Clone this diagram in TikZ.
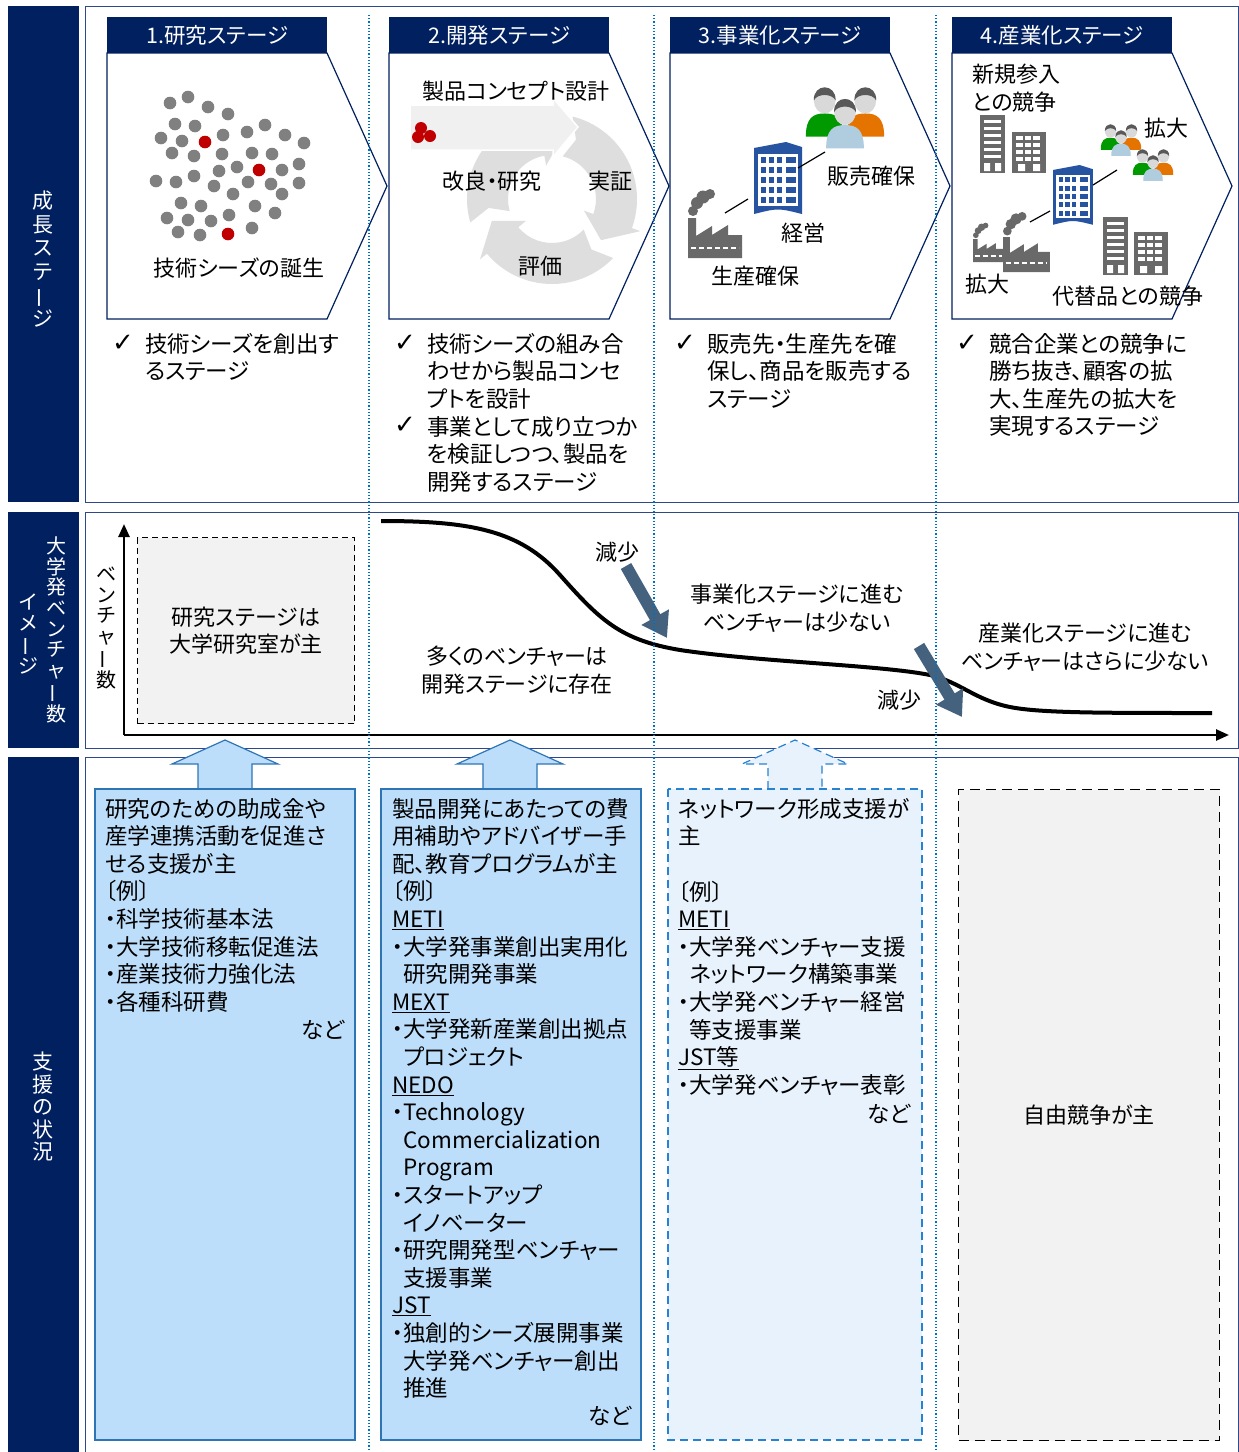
\documentclass[tikz,border=0pt]{standalone}
\usepackage{fontspec}
\setmainfont[RawFeature={+palt}]{Noto Sans CJK JP}
\newfontfamily\tatefont{Noto Sans CJK JP}
\newfontfamily\checkfont{DejaVu Sans}
\usetikzlibrary{arrows.meta,calc}

\definecolor{navy}{RGB}{0,32,96}
\definecolor{panelline}{RGB}{47,72,140}
\definecolor{sepblue}{RGB}{0,112,192}
\definecolor{supfill}{RGB}{189,222,250}
\definecolor{supline}{RGB}{46,117,182}
\definecolor{netfill}{RGB}{232,242,252}
\definecolor{netline}{RGB}{40,130,210}
\definecolor{freefill}{RGB}{242,242,242}
\definecolor{slate}{RGB}{68,98,126}
\definecolor{seedgray}{RGB}{128,128,128}
\definecolor{seedred}{RGB}{192,0,0}
\definecolor{ringgray}{RGB}{222,222,222}
\definecolor{bldblue}{RGB}{38,84,160}
\definecolor{icongray}{RGB}{105,105,105}
\definecolor{frontblue}{RGB}{175,205,222}

% long vowel mark for vertical lines
\newcommand\tbar{\rotatebox[origin=c]{90}{ー}}

\tikzset{
  stagehead/.style={fill=navy,text=white,minimum width=220,minimum height=36,inner sep=0pt,
    font=\fontsize{21.5}{24}\selectfont},
  chevron/.style={draw=navy,line width=1.2pt,fill=white},
  panel/.style={draw=panelline,line width=1pt},
  sep/.style={draw=sepblue,dotted,line width=1.2pt},
  tate/.style={text=white,align=center,inner sep=0pt},
  txt/.style={font=\fontsize{22.5}{27.6}\selectfont,align=left,inner sep=0pt,anchor=north west},
  lbl/.style={font=\fontsize{22}{27.6}\selectfont,align=center,inner sep=0pt},
  chk/.style={font=\checkfont\fontsize{26}{28}\selectfont,inner sep=0pt},
  support/.style={fill=supfill,draw=supline,line width=1.2pt},
  network/.style={fill=netfill,draw=netline,line width=1.2pt,dash pattern=on 8pt off 5pt},
  drop/.style={draw=slate,line width=12pt,-{Triangle[width=30pt,length=24pt]}},
  axis/.style={line width=2.5pt,-{Triangle[width=11pt,length=13pt]}},
  link/.style={line width=1.2pt},
}

% person: head centre, body colour, scale
\newcommand\person[4]{%
  \begin{scope}[shift={(#1,#2)},scale=#4]
    \fill[#3] (-13,25) .. controls (-13,12) and (-8,9) .. (0,9)
      .. controls (8,9) and (13,12) .. (13,25) -- cycle;
    \fill[gray!30] (0,0) ellipse (7.5 and 9);
    \fill[gray!70!black] (-7.5,0) .. controls (-8,-12) and (8,-12) .. (7.5,0)
      .. controls (5,-5) and (-5,-5) .. cycle;
  \end{scope}}
% three people, front head centre
\newcommand\crowd[3]{%
  \person{#1-14*#3}{#2-8*#3}{green!60!black}{#3}
  \person{#1+14*#3}{#2-8*#3}{orange!90!black}{#3}
  \person{#1}{#2}{frontblue}{#3}}
% office block: top left, scale
\newcommand\office[3]{%
  \begin{scope}[shift={(#1,#2)},scale=#3]
    \fill[bldblue] (0,6) -- (32,0) -- (48,5) -- (48,72) .. controls (24,66) .. (0,72) -- cycle;
    \fill[white] (4,12) rectangle (44,64);
    \foreach \r in {0,...,4}{
      \foreach \c in {0,1,2}
        \fill[bldblue] ({7+\c*8},{15+\r*10}) rectangle ++(5,6);
      \fill[bldblue] (32,{15+\r*10}) rectangle ++(10,6);
    }
  \end{scope}}
% factory: bottom left, scale
\newcommand\factory[3]{%
  \begin{scope}[shift={(#1,#2)},scale=#3]
    \fill[icongray] (0,0) -- (0,-40) -- (8,-40) -- (8,-22) -- (24,-32) -- (24,-23)
      -- (40,-33) -- (40,-23) -- (54,-23) -- (54,0) -- cycle;
    \draw[white,line width=2pt,dash pattern=on 5pt off 3pt] (3,-10) -- (51,-10);
    \fill[icongray] (5,-47) circle (5) (9,-55) circle (6) (15,-61) circle (6.5) (22,-64) circle (5);
  \end{scope}}
% grey towers: x, y, w, h
\newcommand\towertall[4]{%
  \fill[icongray] (#1,#2) rectangle ++(#3,#4);
  \foreach \k in {0,...,5}
    \fill[white] ({#1+4},{#2+5+\k*7}) rectangle ++({#3-8},3);
  \fill[white] ({#1+4},{#2+#4-10}) rectangle ++(6,8) ({#1+#3-10},{#2+#4-10}) rectangle ++(6,8);}
\newcommand\towergrid[4]{%
  \fill[icongray] (#1,#2) rectangle ++(#3,#4);
  \foreach \r in {0,...,3}
    \foreach \c in {0,1,2}
      \fill[white] ({#1+4+\c*(#3-8)/3},{#2+4+\r*7}) rectangle ++({(#3-8)/3-2},4);
  \fill[white] ({#1+6},{#2+#4-9}) rectangle ++(7,7) ({#1+#3-13},{#2+#4-9}) rectangle ++(7,7);}
% ring segment with head, clockwise
\newcommand\cyclearrow[2]{%
  \fill[ringgray] ($(ring)+(#1:85)$) arc[start angle=#1,end angle=#2,radius=85]
    -- ($(ring)+(#2:94)$) -- ($(ring)+(#2+20:64)$) -- ($(ring)+(#2:34)$)
    -- ($(ring)+(#2:44)$) arc[start angle=#2,end angle=#1,radius=44]
    -- ($(ring)+(#1+8:64)$) -- cycle;}
% block arrow above a support box
\newcommand\liftarrow[2]{%
  \draw[#2] (#1-27,789) -- (#1-27,764) -- (#1-53,764) -- (#1,740) -- (#1+53,764)
    -- (#1+27,764) -- (#1+27,789);}

\begin{document}
\begin{tikzpicture}[x=1pt,y=-1pt]
\useasboundingbox[fill=white] (0,0) rectangle (1239,1452);

% row titles
\fill[navy] (8,6) rectangle (79,502);
\fill[navy] (8,512) rectangle (79,748);
\fill[navy] (8,757) rectangle (79,1452);
\node[tate,font=\tatefont\fontsize{21}{23.6}\selectfont] (rowstage) at (43,259) {成\\長\\ス\\テ\\\tbar\\ジ};
\node[tate,font=\tatefont\fontsize{20}{20.6}\selectfont] (rowcount) at (56,630) {大\\学\\発\\ベ\\ン\\チ\\ャ\\\tbar\\数};
\node[tate,font=\tatefont\fontsize{20}{20.6}\selectfont] (rowimage) at (29,634) {イ\\メ\\\tbar\\ジ};
\node[tate,font=\tatefont\fontsize{21}{22.5}\selectfont] (rowsupport) at (43,1107) {支\\援\\の\\状\\況};

% panels
\draw[panel] (85,6) rectangle (1238,502);
\draw[panel] (85,512) rectangle (1238,748);
\draw[panel] (85,757) rectangle (1238,1460);

% stage chevrons
\foreach \x/\n/\t in {107/1/研究ステージ,389/2/開発ステージ,670/3/事業化ステージ,952/4/産業化ステージ}{
  \draw[chevron] (\x,53) -- (\x+220,53) -- (\x+280,186) -- (\x+220,319) -- (\x,319) -- cycle;
  \node[stagehead,anchor=north west] (head\n) at (\x,17) {\n.\t};
}

% 1: seeds
\foreach \p in {(170,103),(188,97),(208,107),(228,114),(175,124),(195,126),(161,138),(182,141),
  (223,135),(247,132),(265,125),(285,135),(304,143),(172,153),(194,156),(222,154),(252,153),
  (272,154),(299,164),(237,167),(219,171),(194,176),(156,181),(176,182),(214,186),(248,182),
  (271,184),(282,170),(299,183),(282,194),(233,194),(181,203),(201,206),(255,206),(275,213),
  (167,218),(188,220),(211,221),(229,215),(178,232),(200,235),(252,228)}
  \fill[seedgray] \p circle (6.3);
\foreach \p in {(205,142),(259,170),(228,234)}
  \fill[seedred] \p circle (6.3);
\node[lbl] (seedlbl) at (239,268) {技術シーズの誕生};

% 2: development cycle
\coordinate (ring) at (552,199);
\cyclearrow{164}{260}
\cyclearrow{-76}{20}
\cyclearrow{44}{140}
\fill[gray!12,draw=white,line width=1.5pt] (410,105) -- (553,105) -- (553,98) -- (578,127)
  -- (553,157) -- (553,150) -- (410,150) -- cycle;
\foreach \p in {(421,128),(418,137),(430,136)}
  \fill[seedred] \p circle (6);
\node[lbl] (conceptlbl) at (516,91) {製品コンセプト設計};
\node[lbl] (improvelbl) at (492,181) {改良・研究};
\node[lbl] (provelbl) at (610,181) {実証};
\node[lbl] (evallbl) at (540,266) {評価};

% 3: business
\crowd{845}{112}{1.45}
\office{754}{142}{1}
\factory{688}{258}{1}
\coordinate (bizA) at (798,168);
\coordinate (bizB) at (825,152);
\coordinate (bizC) at (725,213);
\coordinate (bizD) at (748,199);
\draw[link] (bizA) -- (bizB);
\draw[link] (bizC) -- (bizD);
\node[lbl] (saleslbl) at (871,176) {販売確保};
\node[lbl] (mgmtlbl) at (803,233) {経営};
\node[lbl] (prodlbl) at (755,276) {生産確保};

% 4: industry
\node[lbl,align=left,anchor=north west] (entrylbl) at (972,64) {新規参入\\との競争};
\towertall{980}{115}{25}{58}
\towergrid{1012}{132}{34}{41}
\towertall{1103}{217}{25}{58}
\towergrid{1134}{232}{34}{43}
\crowd{1121}{137}{0.75}
\crowd{1153}{162}{0.75}
\office{1053}{165}{0.83}
\factory{973}{262}{0.57}
\factory{1003}{272}{0.87}
\coordinate (indA) at (1093,185);
\coordinate (indB) at (1117,170);
\coordinate (indC) at (1030,222);
\coordinate (indD) at (1050,211);
\draw[link] (indA) -- (indB);
\draw[link] (indC) -- (indD);
\node[lbl] (growlblA) at (1166,128) {拡大};
\node[lbl] (growlblB) at (987,284) {拡大};
\node[lbl] (substlbl) at (1128,296) {代替品との競争};

% stage notes
\node[chk] (chk1) at (123,343) {✓};
\node[txt] (note1) at (145,333) {技術シーズを創出す\\るステージ};
\node[chk] (chk2a) at (405,343) {✓};
\node[chk] (chk2b) at (405,425) {✓};
\node[txt] (note2) at (427,333) {技術シーズの組み合\\わせから製品コンセ\\プトを設計\\事業として成り立つか\\を検証しつつ、製品を\\開発するステージ};
\node[chk] (chk3) at (685,343) {✓};
\node[txt] (note3) at (707,333) {販売先・生産先を確\\保し、商品を販売する\\ステージ};
\node[chk] (chk4) at (967,343) {✓};
\node[txt] (note4) at (989,333) {競合企業との競争に\\勝ち抜き、顧客の拡\\大、生産先の拡大を\\実現するステージ};

% venture count
\node[draw,fill=freefill,line width=1.2pt,dash pattern=on 6pt off 4pt,minimum width=217,
  minimum height=186,anchor=north west] (labbox) at (137,537) {};
\node[lbl] (lablbl) at (labbox.center) {研究ステージは\\大学研究室が主};
\coordinate (origin) at (124,735);
\coordinate (ytop) at (124,524);
\coordinate (xend) at (1229,735);
\draw[axis] (origin) -- (ytop);
\draw[axis] (origin) -- (xend);
\node[tate,text=black,font=\tatefont\fontsize{20}{20.6}\selectfont] (ylbl) at (106,628) {ベ\\ン\\チ\\ャ\\\tbar\\数};
\draw[line width=4pt] (381,521) .. controls (470,521) and (520,530) .. (560,575)
  .. controls (600,620) and (620,640) .. (680,650)
  .. controls (760,662) and (880,665) .. (930,675)
  .. controls (960,682) and (975,700) .. (1010,707)
  .. controls (1040,713) and (1100,713) .. (1212,713);
\coordinate (dropA0) at (626,566);
\coordinate (dropA1) at (667,638);
\coordinate (dropB0) at (919,646);
\coordinate (dropB1) at (962,717);
\draw[drop] (dropA0) -- (dropA1);
\draw[drop] (dropB0) -- (dropB1);
\node[lbl] (lossA) at (617,552) {減少};
\node[lbl] (lossB) at (899,700) {減少};
\node[lbl] (devlbl) at (517,670) {多くのベンチャーは\\開発ステージに存在};
\node[lbl] (bizlbl) at (797,608) {事業化ステージに進む\\ベンチャーは少ない};
\node[lbl] (indlbl) at (1085,647) {産業化ステージに進む\\ベンチャーはさらに少ない};

% stage separators
\foreach \x in {369,654,936}
  \draw[sep] (\x,15) -- (\x,1452);

% support
\liftarrow{225}{support}
\liftarrow{510}{support}
\liftarrow{795}{network}
\draw[support] (95,789) rectangle (355,1440);
\draw[support] (381,789) rectangle (641,1440);
\draw[network] (668,789) rectangle (922,1440);
\node[draw,fill=freefill,line width=1.2pt,dash pattern=on 10pt off 6pt,minimum width=261,
  minimum height=651,anchor=north west] (freebox) at (958,789) {};
\node[txt] (sup1) at (105,798) {研究のための助成金や\\産学連携活動を促進さ\\せる支援が主\\〔例〕\\・科学技術基本法\\・大学技術移転促進法\\・産業技術力強化法\\・各種科研費};
\node[txt,anchor=north east] (etc1) at (345,1020) {など};
\node[txt] (sup2) at (392,798) {製品開発にあたっての費\\用補助やアドバイザー手\\配、教育プログラムが主\\〔例〕\\\underline{METI}\\・大学発事業創出実用化\\\phantom{・}研究開発事業\\\underline{MEXT}\\・大学発新産業創出拠点\\\phantom{・}プロジェクト\\\underline{NEDO}\\・Technology\\\phantom{・}Commercialization\\\phantom{・}Program\\・スタートアップ\\\phantom{・}イノベーター\\・研究開発型ベンチャー\\\phantom{・}支援事業\\\underline{JST}\\・独創的シーズ展開事業\\\phantom{・}大学発ベンチャー創出\\\phantom{・}推進};
\node[txt,anchor=north east] (etc2) at (632,1406) {など};
\node[txt] (sup3) at (678,798) {ネットワーク形成支援が\\主\\\mbox{}\\〔例〕\\\underline{METI}\\・大学発ベンチャー支援\\\phantom{・}ネットワーク構築事業\\・大学発ベンチャー経営\\\phantom{・}等支援事業\\\underline{JST等}\\・大学発ベンチャー表彰};
\node[txt,anchor=north east] (etc3) at (911,1104) {など};
\node[lbl] (freelbl) at (freebox.center) {自由競争が主};
\end{tikzpicture}
\end{document}
